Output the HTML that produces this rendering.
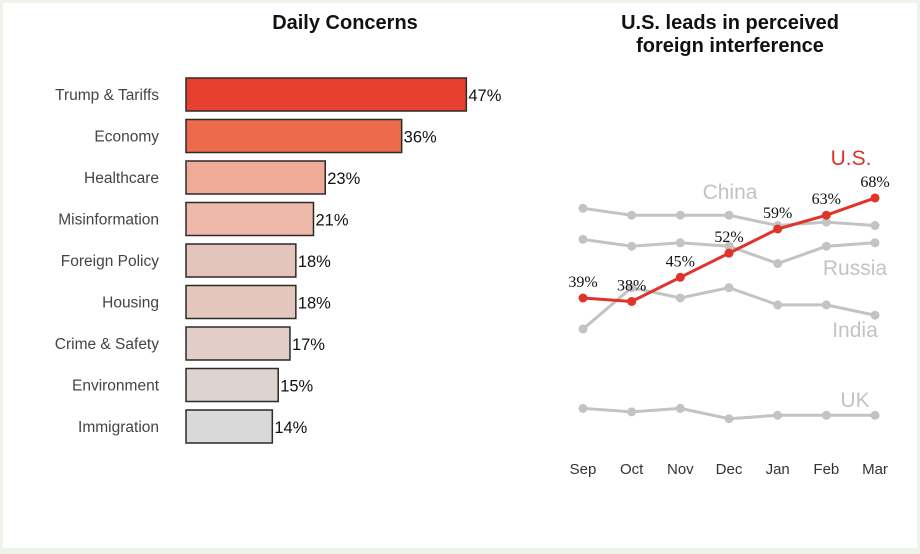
<!DOCTYPE html>
<html><head><meta charset="utf-8"><style>
html,body{margin:0;padding:0;}
body{width:920px;height:554px;background:#eef4e9;font-family:"Liberation Sans",sans-serif;}
#frame{position:absolute;left:3px;top:3px;width:914px;height:545px;background:#fff;}
svg{position:absolute;left:0;top:0;}
</style></head><body>
<div id="frame"></div>
<svg id="chart" width="920" height="554">
<text x="345" y="29" text-anchor="middle" font-size="20" font-weight="bold" fill="#111">Daily Concerns</text>
<text x="730" y="29" text-anchor="middle" font-size="20" font-weight="bold" fill="#111">U.S. leads in perceived</text>
<text x="730" y="52" text-anchor="middle" font-size="20" font-weight="bold" fill="#111">foreign interference</text>
<g id="bars"></g>
<g id="lines"></g>
</svg>
<script>
const categories=["Trump & Tariffs","Economy","Healthcare","Misinformation","Foreign Policy","Housing","Crime & Safety","Environment","Immigration"];
const concernValues=[47,36,23,21,18,18,17,15,14];
const barColors=["#e8402f","#ec6a4b","#f0ab98","#eeb9a9","#e5c4bb","#e5c6bd","#e2cdc8","#dcd3d1","#d9d9d9"];
const months=["Sep","Oct","Nov","Dec","Jan","Feb","Mar"];
const usValues=[39,38,45,52,59,63,68];
const chinaValues=[65,63,63,63,60,61,60];
const russiaValues=[56,54,55,54,49,54,55];
const indiaValues=[30,42,39,42,37,37,34];
const ukValues=[7,6,7,4,5,5,5];

const NS="http://www.w3.org/2000/svg";
function mk(tag,attrs,parent,text){const e=document.createElementNS(NS,tag);for(const k in attrs)e.setAttribute(k,attrs[k]);if(text!==undefined)e.textContent=text;parent.appendChild(e);return e;}

// bar chart
const bx=v=>190+v*5.88;
const by=i=>78+i*41.5;
const bg=document.getElementById('bars');
categories.forEach((c,i)=>{
  const y=by(i);
  const t=mk('text',{x:159,y:y+22,'text-anchor':'end','font-size':15.5,fill:'#444'},bg,c);
  
  
  const r=mk('rect',{x:186,y:y,width:bx(concernValues[i])-186,height:33,fill:barColors[i],stroke:'#2a2a2a','stroke-width':1.5},bg);
  
  
  const v=mk('text',{x:bx(concernValues[i])+2,y:y+23,'font-size':16.5,fill:'#111'},bg,concernValues[i]+'%');
  
  
});

// line chart
const lx=i=>583+i*48.67;
const ly=v=>298-(v-39)*3.45;
const lg=document.getElementById('lines');
function series(vals,color,name){
  const pts=vals.map((v,i)=>lx(i)+','+ly(v)).join(' ');
  const p=mk('polyline',{points:pts,fill:'none',stroke:color,'stroke-width':3},lg);
  
  
  vals.forEach((v,i)=>{
    const c=mk('circle',{cx:lx(i),cy:ly(v),r:4.5,fill:color},lg);
    
    
  });
}
const gray='#c3c3c3';
series(chinaValues,gray,'china');
series(russiaValues,gray,'russia');
series(indiaValues,gray,'india');
series(ukValues,gray,'uk');
series(usValues,'#e0332b','us');
usValues.forEach((v,i)=>{
  const t=mk('text',{x:lx(i),y:ly(v)-11,'text-anchor':'middle','font-size':16,'font-family':'Liberation Serif, serif',fill:'#111'},lg,v+'%');
  
  
});
months.forEach((m,i)=>{
  const t=mk('text',{x:lx(i),y:474,'text-anchor':'middle','font-size':15,fill:'#333'},lg,m);
  
  
});
const labs=[["China",730,199,gray,'china-label'],["Russia",855,275,gray,'russia-label'],["India",855,337,gray,'india-label'],["UK",855,407,gray,'uk-label'],["U.S.",851,165,'#d9322a','us-label']];
labs.forEach(l=>{
  const t=mk('text',{x:l[1],y:l[2],'text-anchor':'middle','font-size':21,fill:l[3]},lg,l[0]);
  
  
});
</script>
</body></html>
